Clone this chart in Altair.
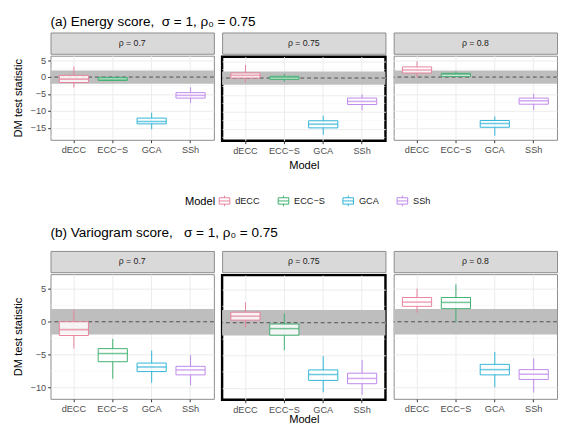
import altair as alt
import pandas as pd

models = ["dECC", "ECC−S", "GCA", "SSh"]
rho_labels = ["ρ = 0.7", "ρ = 0.75", "ρ = 0.8"]
model_colors = ["#E8819A", "#3DAE6E", "#2DB3D6", "#BE87EA"]

# (a) Energy score: one list per rho facet, one value per model
a_lo = [[-3.1, -1.2, -15.4, -7.6], [-1.3, -1.1, -16.7, -9.5], [0.0, 0.0, -17.3, -9.7]]
a_q1 = [[-1.6, -1.0, -13.8, -6.2], [0.0, -0.4, -14.7, -7.8], [1.2, 0.2, -14.8, -8.0]]
a_med = [[-0.6, -0.6, -13.1, -5.4], [0.8, 0.1, -13.6, -6.9], [2.1, 0.8, -13.7, -7.0]]
a_q3 = [[0.5, -0.1, -12.1, -4.6], [1.5, 0.5, -12.6, -5.9], [3.0, 1.1, -12.8, -6.2]]
a_hi = [[3.1, 0.0, -10.5, -3.0], [3.9, 1.2, -11.1, -4.8], [4.6, 1.7, -11.6, -5.0]]

# (b) Variogram score
b_lo = [[-4.1, -8.7, -9.3, -9.7], [-0.7, -4.2, -10.6, -11.0], [1.4, -0.1, -10.0, -10.8]]
b_q1 = [[-2.1, -6.1, -7.6, -8.1], [0.4, -1.9, -8.8, -9.3], [2.35, 2.0, -8.1, -8.8]]
b_med = [[-1.2, -4.85, -6.9, -7.35], [1.0, -0.9, -7.9, -8.5], [3.0, 2.95, -7.3, -8.0]]
b_q3 = [[0.0, -4.1, -6.3, -6.8], [1.6, -0.2, -7.2, -7.7], [3.7, 3.7, -6.5, -7.3]]
b_hi = [[1.8, -2.6, -4.4, -5.1], [3.1, 1.4, -5.1, -5.7], [5.05, 5.7, -4.6, -5.6]]

a_ticks = [-15, -10, -5, 0, 5]
a_minor = [-17.5, -12.5, -7.5, -2.5, 2.5]
a_domain = [-18.5, 6.3]
b_ticks = [-10, -5, 0, 5]
b_minor = [-7.5, -2.5, 2.5]
b_domain = [-11.76, 7.26]
crit = [-1.96, 1.96]

FONT = "Liberation Sans"
PW = 169
STRIP_H = 22

stroke_scale = alt.Scale(domain=models, range=model_colors)
glyph = "M-1,-0.6H1V0.6H-1Z M-1,0H1 M0,-0.6V-1 M0,0.6V1"


def strip(label):
    return alt.Chart(pd.DataFrame({"lab": [label]})).mark_text(
        fontSize=9, color="#1A1A1A", font=FONT
    ).encode(
        text="lab:N", x=alt.value(PW / 2), y=alt.value(STRIP_H / 2)
    ).properties(
        width=PW, height=STRIP_H,
        view=alt.ViewBackground(fill="#D9D9D9", stroke="#8A8A8A", strokeWidth=1),
    )


def panel(i, lo, q1, med, q3, hi, ydom, yticks, yminor, height, xpad):
    df = pd.DataFrame({"Model": models, "lo": lo[i], "q1": q1[i], "med": med[i],
                       "q3": q3[i], "hi": hi[i]})
    first = i == 0
    mid = i == 1
    yscale = alt.Scale(domain=ydom, nice=False, zero=False)
    xaxis = alt.Axis(
        title="Model" if mid else None, labelAngle=0, bandPosition=0.5, grid=True,
        gridColor="#EBEBEB", gridWidth=1, domain=False, tickColor="#333333", tickSize=3,
        labelFontSize=9.5, labelColor="#4D4D4D", labelPadding=2, labelFont=FONT,
        titleFontSize=11.5, titleFontWeight="normal", titleColor="#000000", titleFont=FONT,
        titlePadding=xpad,
    )
    yaxis = alt.Axis(
        values=yticks, title="DM test statistic" if first else None, labels=first,
        ticks=first, grid=True, gridColor="#EBEBEB", gridWidth=1, domain=False,
        tickColor="#333333", tickSize=3, labelFontSize=9.5, labelColor="#4D4D4D",
        labelPadding=2, labelFont=FONT, labelOverlap=False, titleFontSize=11.5,
        titleFontWeight="normal", titleColor="#000000", titleFont=FONT, titlePadding=7,
    )
    x = alt.X("Model:N", sort=models,
              scale=alt.Scale(domain=models, paddingInner=0, paddingOuter=0.1), axis=xaxis)
    base = alt.Chart(df)
    minor = alt.Chart(pd.DataFrame({"v": yminor})).mark_rule(
        color="#F4F4F4", strokeWidth=0.6
    ).encode(y=alt.Y("v:Q", scale=yscale, axis=yaxis))
    band = alt.Chart(pd.DataFrame({"a": [crit[0]], "b": [crit[1]]})).mark_rect(
        color="#BEBEBE"
    ).encode(y=alt.Y("a:Q", scale=yscale, axis=yaxis), y2="b:Q",
             x=alt.value(0), x2=alt.value(PW))
    zero = alt.Chart(pd.DataFrame({"z": [0]})).mark_rule(
        color="#4D4D4D", strokeDash=[4, 3], strokeWidth=1
    ).encode(y=alt.Y("z:Q", scale=yscale, axis=yaxis))
    stroke = alt.Stroke("Model:N", scale=stroke_scale, legend=None)
    whisk = base.mark_rule(strokeWidth=1).encode(
        x=x, y=alt.Y("lo:Q", scale=yscale, axis=yaxis), y2="hi:Q", stroke=stroke)
    box = base.mark_bar(fill="white", fillOpacity=0.85, strokeWidth=1,
                        width=alt.RelativeBandSize(0.75)).encode(
        x=x, y=alt.Y("q1:Q", scale=yscale, axis=yaxis), y2="q3:Q", stroke=stroke)
    mtick = base.mark_tick(size=30, thickness=1.6).encode(
        x=x, y=alt.Y("med:Q", scale=yscale, axis=yaxis),
        color=alt.Color("Model:N", scale=stroke_scale, legend=None))
    view = alt.ViewBackground(stroke="#000000", strokeWidth=2.5) if mid else \
        alt.ViewBackground(stroke="#8A8A8A", strokeWidth=1)
    return alt.layer(minor, band, zero, whisk, box, mtick).properties(
        width=PW, height=height, view=view)


def row(stats, ydom, yticks, yminor, height, title, xpad, toff):
    cols = []
    for i in range(3):
        cols.append(alt.vconcat(
            strip(rho_labels[i]),
            panel(i, *stats, ydom, yticks, yminor, height, xpad),
            spacing=0,
        ))
    return alt.hconcat(*cols, spacing=5.5).properties(
        title=alt.TitleParams(title, anchor="start", fontSize=14, fontWeight="normal",
                              font=FONT, color="#000000", offset=toff, frame="group"))


row_a = row((a_lo, a_q1, a_med, a_q3, a_hi), a_domain, a_ticks, a_minor, 87,
            "(a) Energy score,\u00a0\u00a0σ = 1, ρ₀ = 0.75", 5, 3)
row_b = row((b_lo, b_q1, b_med, b_q3, b_hi), b_domain, b_ticks, b_minor, 129,
            "(b) Variogram score,\u00a0\u00a0\u00a0σ = 1, ρ₀ = 0.75", 0, 11)

legend_chart = alt.Chart(pd.DataFrame({"Model": models})).mark_bar(
    fill="white", strokeWidth=1, opacity=1
).encode(
    x=alt.value(0), x2=alt.value(0), y=alt.value(0), y2=alt.value(0),
    stroke=alt.Stroke(
        "Model:N", scale=stroke_scale,
        legend=alt.Legend(
            orient="none", legendX=139, legendY=6, direction="horizontal",
            title="Model", titleOrient="left", titleFontSize=11.5, titleFontWeight="normal",
            titleColor="#000000", titleFont=FONT, titlePadding=3, labelFontSize=9.5,
            labelColor="#1A1A1A", labelFont=FONT, symbolType=glyph, symbolSize=121,
            symbolStrokeWidth=1, symbolFillColor="white", columnPadding=16, labelOffset=5,
        ),
    )
).properties(width=500, height=21, view=alt.ViewBackground(stroke="transparent"))

chart = alt.vconcat(row_a, legend_chart, row_b, spacing=16).properties(
    padding={"left": 4, "top": 0, "right": 0, "bottom": 0}
).resolve_legend(stroke="independent").configure(font=FONT).configure_view(stroke="#8A8A8A")

chart.save("out.html", embed_options={"renderer": "svg", "actions": False})
